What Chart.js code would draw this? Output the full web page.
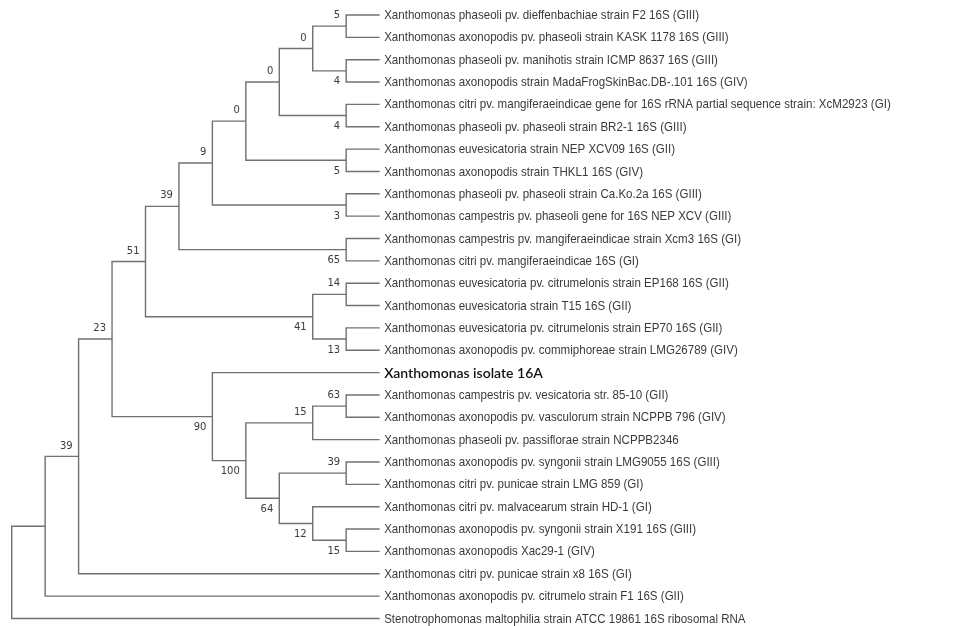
<!DOCTYPE html>
<html><head><meta charset="utf-8">
<script src="https://cdn.jsdelivr.net/npm/chart.js@4"></script>
<style>html,body{margin:0;padding:0;background:#fff}#wrap{width:978px;height:626px;position:relative}</style>
</head><body><div id="wrap"><canvas id="c"></canvas></div>
<script>
// Leaf (taxon) names, top to bottom
const leafNames = [
 "Xanthomonas phaseoli pv. dieffenbachiae strain F2 16S (GIII)",
 "Xanthomonas axonopodis pv. phaseoli strain KASK 1178 16S (GIII)",
 "Xanthomonas phaseoli pv. manihotis strain ICMP 8637 16S (GIII)",
 "Xanthomonas axonopodis strain MadaFrogSkinBac.DB-.101 16S (GIV)",
 "Xanthomonas citri pv. mangiferaeindicae gene for 16S rRNA partial sequence strain: XcM2923 (GI)",
 "Xanthomonas phaseoli pv. phaseoli strain BR2-1 16S (GIII)",
 "Xanthomonas euvesicatoria strain NEP XCV09 16S (GII)",
 "Xanthomonas axonopodis strain THKL1 16S (GIV)",
 "Xanthomonas phaseoli pv. phaseoli strain Ca.Ko.2a 16S (GIII)",
 "Xanthomonas campestris pv. phaseoli gene for 16S NEP XCV (GIII)",
 "Xanthomonas campestris pv. mangiferaeindicae strain Xcm3 16S (GI)",
 "Xanthomonas citri pv. mangiferaeindicae 16S (GI)",
 "Xanthomonas euvesicatoria pv. citrumelonis strain EP168 16S (GII)",
 "Xanthomonas euvesicatoria strain T15 16S (GII)",
 "Xanthomonas euvesicatoria pv. citrumelonis strain EP70 16S (GII)",
 "Xanthomonas axonopodis pv. commiphoreae strain LMG26789 (GIV)",
 "Xanthomonas isolate 16A",
 "Xanthomonas campestris pv. vesicatoria str. 85-10 (GII)",
 "Xanthomonas axonopodis pv. vasculorum strain NCPPB 796 (GIV)",
 "Xanthomonas phaseoli pv. passiflorae strain NCPPB2346",
 "Xanthomonas axonopodis pv. syngonii strain LMG9055 16S (GIII)",
 "Xanthomonas citri pv. punicae strain LMG 859 (GI)",
 "Xanthomonas citri pv. malvacearum strain HD-1 (GI)",
 "Xanthomonas axonopodis pv. syngonii strain X191 16S (GIII)",
 "Xanthomonas axonopodis Xac29-1 (GIV)",
 "Xanthomonas citri pv. punicae strain x8 16S (GI)",
 "Xanthomonas axonopodis pv. citrumelo strain F1 16S (GII)",
 "Stenotrophomonas maltophilia strain ATCC 19861 16S ribosomal RNA"
];
const highlightLeaf = 16;
const tipDepth = 11;

// Internal nodes (cladogram): id, depth level, children (numbers = leaves, strings = nodes), bootstrap
const nodeIds      = ["root","n1","n2","n3","n4","n5","n6","n7","n8","n9","a5","a4","b4","b5","c3","c65","n41","c14","c13","n90","n100","n15","c63","n64","c39","n12","c15"];
const nodeDepths   = [0,1,2,3,4,5,6,7,8,9,10,10,10,10,10,10,9,10,10,6,7,9,10,8,10,9,10];
const nodeChildren = [
 ["n1",27],["n2",26],["n3",25],["n4","n90"],["n5","n41"],["n6","c65"],["n7","c3"],["n8","b5"],["n9","b4"],["a5","a4"],
 [0,1],[2,3],[4,5],[6,7],[8,9],[10,11],["c14","c13"],[12,13],[14,15],
 [16,"n100"],["n15","n64"],["c63",19],[17,18],["c39","n12"],[20,21],[22,"c15"],[23,24]
];
const nodeSupport  = [null,null,39,23,51,39,9,0,0,0,5,4,4,5,3,65,41,14,13,90,100,15,63,64,39,12,15];

// ---- build geometry in data units ----
const idx = {}; nodeIds.forEach((id,i)=>idx[id]=i);
const nodeY = {};
function yOf(c){ if(typeof c==="number") return c; return nodeYCalc(c); }
function dOf(c){ return typeof c==="number" ? tipDepth : nodeDepths[idx[c]]; }
function nodeYCalc(id){
  if(nodeY[id]!==undefined) return nodeY[id];
  const ch = nodeChildren[idx[id]];
  const v = (yOf(ch[0]) + yOf(ch[ch.length-1]))/2;
  nodeY[id]=v; return v;
}
nodeIds.forEach(id=>nodeYCalc(id));
const side = {};
nodeIds.forEach((id,i)=>{ const ch=nodeChildren[i]; if(typeof ch[0]==="string") side[ch[0]]="up"; if(typeof ch[1]==="string") side[ch[1]]="down"; });

const LINE = "#717171";
const datasets = nodeIds.map((id,i)=>{
  const d = nodeDepths[i], ch = nodeChildren[i];
  return {
    data:[{x:dOf(ch[0]),y:yOf(ch[0])},{x:d,y:yOf(ch[0])},{x:d,y:yOf(ch[1])},{x:dOf(ch[1]),y:yOf(ch[1])}],
    borderColor:LINE, borderWidth:1.4, pointRadius:0, showLine:true, fill:false,
    borderJoinStyle:"miter", borderCapStyle:"butt", tension:0
  };
});

const LEAF_FONT = "13px 'Liberation Sans', Arial, sans-serif";
const LEAF_REF_WIDTH = 315; // width of first label in the reference, px
const labelPlugin = {
  id:"treeLabels",
  afterDatasetsDraw(chart){
    const ctx = chart.ctx, xs = chart.scales.x, ys = chart.scales.y;
    ctx.save();
    ctx.textBaseline = "middle"; ctx.textAlign = "left";
    ctx.font = LEAF_FONT;
    const sx = LEAF_REF_WIDTH / ctx.measureText(leafNames[0]).width;
    leafNames.forEach((name,i)=>{
      const px = xs.getPixelForValue(tipDepth)+4.5, py = ys.getPixelForValue(i);
      if(i===highlightLeaf){
        ctx.font = "600 14px Lato"; ctx.fillStyle = "#111"; ctx.fillText(name,px,py+0.5);
      } else {
        ctx.font = LEAF_FONT; ctx.fillStyle = "#3a3a3a";
        ctx.save(); ctx.translate(px,py+0.5); ctx.scale(sx,1); ctx.fillText(name,0,0); ctx.restore();
      }
    });
    ctx.font = "10px 'DejaVu Sans'"; ctx.fillStyle = "#3a3a3a"; ctx.textAlign = "right";
    nodeIds.forEach((id,i)=>{
      const s = nodeSupport[i]; if(s===null) return;
      const px = xs.getPixelForValue(nodeDepths[i]) - 6, py = ys.getPixelForValue(nodeY[id]);
      ctx.fillText(String(s), px, side[id]==="down" ? py+11 : py-10.5);
    });
    ctx.restore();
  }
};

new Chart(document.getElementById("c"),{
  type:"scatter",
  data:{datasets},
  options:{
    responsive:true, maintainAspectRatio:false, animation:false,
    layout:{padding:0},
    plugins:{legend:{display:false},tooltip:{enabled:false}},
    scales:{
      x:{type:"linear",display:false,min:-0.35,max:28.89},
      y:{type:"linear",display:false,reverse:true,min:-0.671,max:27.338}
    }
  },
  plugins:[labelPlugin]
});
</script></body></html>
